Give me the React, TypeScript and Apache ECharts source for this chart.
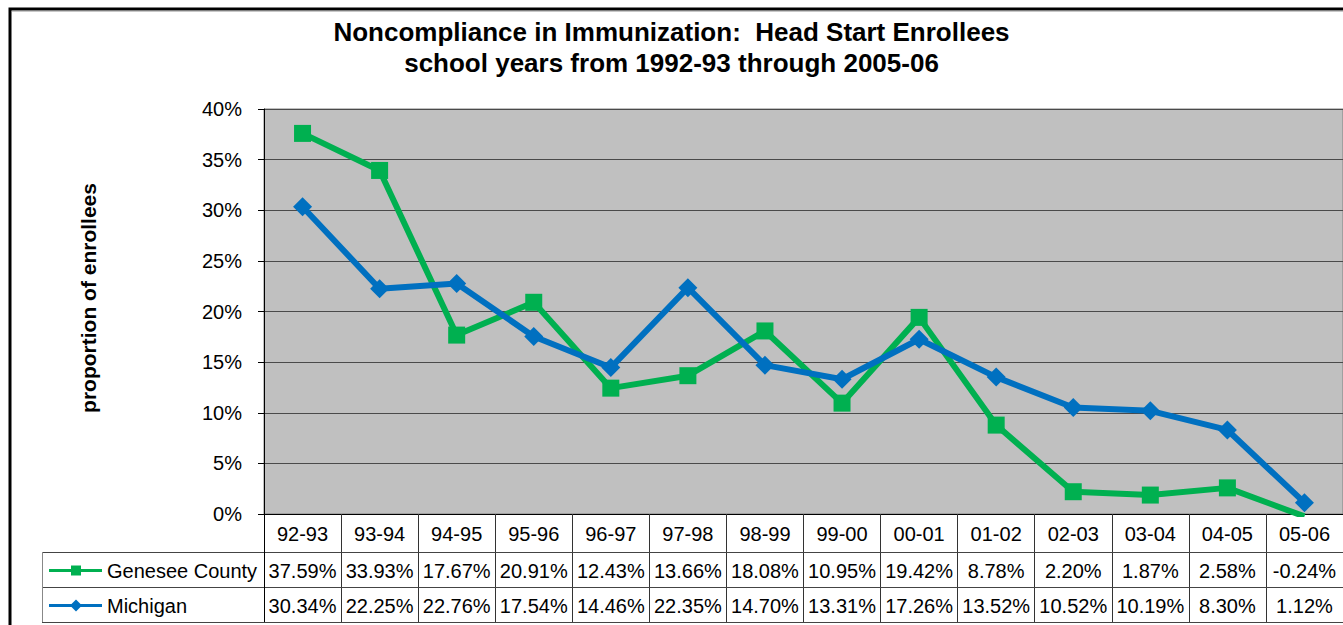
import React, { useEffect, useRef } from "react";
import * as echarts from "echarts";

const categories = ["92-93", "93-94", "94-95", "95-96", "96-97", "97-98", "98-99", "99-00", "00-01", "01-02", "02-03", "03-04", "04-05", "05-06"];
const genesee = [37.59, 33.93, 17.67, 20.91, 12.43, 13.66, 18.08, 10.95, 19.42, 8.78, 2.2, 1.87, 2.58, -0.24];
const michigan = [30.34, 22.25, 22.76, 17.54, 14.46, 22.35, 14.7, 13.31, 17.26, 13.52, 10.52, 10.19, 8.3, 1.12];
const seriesNames = ["Genesee County", "Michigan"];
const seriesColors = ["#00B050", "#0070C0"];
const titleLines = ["Noncompliance in Immunization:  Head Start Enrollees", "school years from 1992-93 through 2005-06"];
const yAxisTitle = "proportion of enrollees";
const yMin = 0;
const yMax = 40;
const yStep = 5;

const FONT = "'Liberation Sans', Arial, Helvetica, sans-serif";

export default function App() {
  const ref = useRef<HTMLDivElement>(null);
  useEffect(() => {
    if (!ref.current) return;
    const chart = echarts.init(ref.current, undefined, { renderer: "svg" });
    const gridLeft = 264, gridTop = 109, gridW = 1079, gridH = 405;
    chart.setOption({
      animation: false,
      backgroundColor: "#ffffff",
      textStyle: { fontFamily: FONT },
      title: {
        text: titleLines.join("\n"),
        left: "center",
        top: 11,
        textStyle: { fontFamily: FONT, fontSize: 26, fontWeight: "bold", color: "#000", lineHeight: 31 },
      },
      grid: {
        left: gridLeft, top: gridTop, width: gridW, height: gridH,
        show: true, backgroundColor: "#C0C0C0", borderColor: "#808080", borderWidth: 1,
      },
      xAxis: {
        type: "category",
        data: categories,
        boundaryGap: true,
        axisLine: { show: true, lineStyle: { color: "#000", width: 1 } },
        axisTick: { show: true, interval: 0, length: 108, lineStyle: { color: "#333", width: 1 } },
        axisLabel: { interval: 0, fontSize: 20, color: "#000", margin: 10, fontFamily: FONT },
        splitLine: { show: false },
      },
      yAxis: {
        type: "value",
        min: yMin, max: yMax, interval: yStep,
        axisLine: { show: true, lineStyle: { color: "#000", width: 1 } },
        axisTick: { show: true, length: 6, lineStyle: { color: "#000" } },
        axisLabel: { formatter: "{value}%", fontSize: 20, color: "#000", margin: 22, fontFamily: FONT },
        splitLine: { show: true, lineStyle: { color: "#4a4a4a", width: 1 } },
      },
      series: [
        {
          name: seriesNames[0], type: "line", data: genesee, clip: true,
          symbol: "rect", symbolSize: 17,
          lineStyle: { color: seriesColors[0], width: 6 },
          itemStyle: { color: seriesColors[0] },
        },
        {
          name: seriesNames[1], type: "line", data: michigan, clip: true,
          symbol: "diamond", symbolSize: 19,
          lineStyle: { color: seriesColors[1], width: 6 },
          itemStyle: { color: seriesColors[1] },
        },
      ],
    });

    const xs = categories.map((_, i) => chart.convertToPixel({ xAxisIndex: 0 }, i) as number);
    const tableRight = gridLeft + gridW;
    const rowTop = 552, rowMid = 587, rowBot = 622, tableLeft = 42;
    const row1Y = (rowTop + rowMid) / 2 + 1;
    const row2Y = (rowMid + rowBot) / 2 + 1;
    const graphics: any[] = [];
    // outer border
    graphics.push({ type: "rect", shape: { x: 10, y: 9, width: 1400, height: 700 }, style: { fill: "none", stroke: "#000", lineWidth: 3 }, z: 100 });
    graphics.push({ type: "line", shape: { x1: 12, y1: 11.5, x2: 1343, y2: 11.5 }, style: { stroke: "#c8c8c8", lineWidth: 1 }, z: 100 });
    // table lines
    [rowTop, rowMid, rowBot].forEach((y) => {
      graphics.push({ type: "line", shape: { x1: tableLeft, y1: y + 0.5, x2: tableRight, y2: y + 0.5 }, style: { stroke: "#444", lineWidth: 1 }, z: 50 });
    });
    graphics.push({ type: "line", shape: { x1: tableLeft + 0.5, y1: rowTop, x2: tableLeft + 0.5, y2: rowBot }, style: { stroke: "#888", lineWidth: 1 }, z: 50 });
    graphics.push({ type: "line", shape: { x1: gridLeft + 0.5, y1: gridTop + gridH, x2: gridLeft + 0.5, y2: rowBot }, style: { stroke: "#000", lineWidth: 1 }, z: 50 });
    // legend keys
    const rowsY = [row1Y, row2Y];
    rowsY.forEach((y, k) => {
      graphics.push({ type: "line", shape: { x1: 49, y1: y, x2: 102, y2: y }, style: { stroke: seriesColors[k], lineWidth: 3 }, z: 50 });
      if (k === 0) {
        graphics.push({ type: "rect", shape: { x: 71, y: y - 5, width: 10, height: 10 }, style: { fill: seriesColors[k] }, z: 51 });
      } else {
        graphics.push({ type: "polygon", shape: { points: [[76, y - 6], [82, y], [76, y + 6], [70, y]] }, style: { fill: seriesColors[k] }, z: 51 });
      }
      graphics.push({ type: "text", x: 107, y, style: { text: seriesNames[k], font: `20px ${FONT}`, fill: "#000", textAlign: "left", textVerticalAlign: "middle" }, z: 51 });
    });
    // table values
    const fmt = (v: number) => v.toFixed(2) + "%";
    xs.forEach((x, i) => {
      graphics.push({ type: "text", x, y: row1Y, style: { text: fmt(genesee[i]), font: `20px ${FONT}`, fill: "#000", textAlign: "center", textVerticalAlign: "middle" }, z: 51 });
      graphics.push({ type: "text", x, y: row2Y, style: { text: fmt(michigan[i]), font: `20px ${FONT}`, fill: "#000", textAlign: "center", textVerticalAlign: "middle" }, z: 51 });
    });
    // y axis title
    graphics.push({ type: "text", x: 88, y: 298, rotation: Math.PI / 2, style: { text: yAxisTitle, font: `bold 21px ${FONT}`, fill: "#000", textAlign: "center", textVerticalAlign: "middle" }, z: 51 });
    chart.setOption({ graphic: graphics });

    return () => chart.dispose();
  }, []);
  return <div ref={ref} style={{ position: "fixed", left: 0, top: 0, width: 1343, height: 625, background: "#fff" }} />;
}
